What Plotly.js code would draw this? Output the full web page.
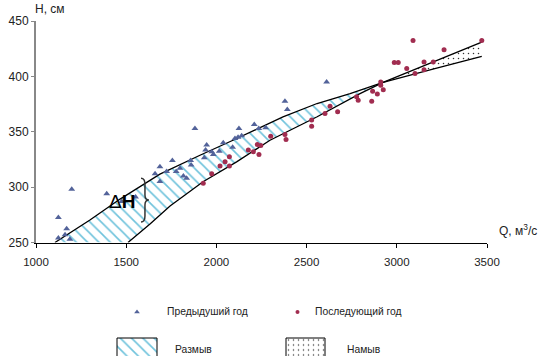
<!DOCTYPE html>
<html>
<head>
<meta charset="utf-8">
<script src="https://cdn.plot.ly/plotly-3.0.1.min.js"></script>
<style>html,body{margin:0;padding:0;background:#fff;}#chart{width:539px;height:361px;}</style>
</head>
<body>
<div id="chart"></div>
<script>
// ---- Data ----
// Previous year (triangles): Q, H
const prevQ = [1124,1198,1170,1161,1124,1188,1392,1475,1552,1660,1687,1687,1724,1756,1777,1798,1817,1835,1857,1860,1881,1933,1940,1946,1974,1983,2016,2038,2090,2103,2120,2125,2140,2210,2235,2273,2380,2393,2611];
const prevH = [272.5,298,262.5,257,254,253,294,287,291,312,305,318.5,314,324,314,317,310,308,324,320,353,326.5,333.5,338,332,329.5,332.5,340,336,344,345,353,346.5,356.5,353,353.5,377.5,370,395];
// Following year (circles): Q, H
const nextQ = [1927,1974,2020,2048,2072,2072,2177,2205,2227,2236,2246,2301,2380,2386,2528,2528,2602,2630,2672,2777,2786,2861,2866,2892,2911,2911,2925,2986,3008,3055,3090,3101,3151,3151,3202,3262,3471];
const nextH = [303.5,312,319,323,327.5,319,333.5,332,338.5,329.5,337.5,346,347.5,343,360.5,355,366.5,373,368,381.5,378.5,377.5,386.5,384,395,392,388,412.5,412.5,407,432.5,402.5,413,406,413,424,432.5];
// Rating curves
const prevCurveQ = [1105,1299,1466,1687,1909,2092,2369,2558,2741,2924,3200,3471];
const prevCurveH = [250,270.3,289.2,311.7,328.8,342.3,363.5,375.5,384.5,394.6,406.5,418];
const nextCurveQ = [1510,1632,1743,1926,2112,2297,2556,2796,2924,3200,3471];
const nextCurveH = [250,266.7,282.9,304.8,322.8,342.3,363.3,384.4,394.6,413,431];
const xTicks = [1000,1500,2000,2500,3000,3500];
const yTicks = [250,300,350,400,450];
const legendNames = ['Предыдуший год','Последующий год','Размыв','Намыв'];

// ---- Build band polygons from the curves ----
const crossQ = prevCurveQ.find(q => q > nextCurveQ[0] && nextCurveQ.includes(q));
const pi = prevCurveQ.indexOf(crossQ), ni = nextCurveQ.indexOf(crossQ);
const eroX = prevCurveQ.slice(0, pi + 1).concat(nextCurveQ.slice(0, ni + 1).reverse());
const eroY = prevCurveH.slice(0, pi + 1).concat(nextCurveH.slice(0, ni + 1).reverse());
const accX = prevCurveQ.slice(pi).concat(nextCurveQ.slice(ni).reverse());
const accY = prevCurveH.slice(pi).concat(nextCurveH.slice(ni).reverse());

const FONT = 'Liberation Sans, Arial, sans-serif';
const hatch = {shape: '\\', fgcolor: '#6fc3dc', bgcolor: '#ffffff', size: 8, solidity: 0.2};
const dots = {shape: '.', fgcolor: '#333333', bgcolor: '#ffffff', size: 5, solidity: 0.07};
const triColor = '#53639a', circColor = '#a12d50';

const traces = [
  {x: eroX, y: eroY, type: 'scatter', mode: 'lines', fill: 'toself', fillcolor: 'rgba(0,0,0,0)', fillpattern: hatch, line: {width: 0}, hoverinfo: 'skip', showlegend: false},
  {x: accX, y: accY, type: 'scatter', mode: 'lines', fill: 'toself', fillcolor: 'rgba(0,0,0,0)', fillpattern: dots, line: {width: 0}, hoverinfo: 'skip', showlegend: false},
  {x: prevCurveQ, y: prevCurveH, type: 'scatter', mode: 'lines', line: {color: '#000', width: 1.3}, showlegend: false},
  {x: nextCurveQ, y: nextCurveH, type: 'scatter', mode: 'lines', line: {color: '#000', width: 1.3}, showlegend: false},
  {x: prevQ, y: prevH, type: 'scatter', mode: 'markers', name: legendNames[0], marker: {symbol: 'triangle-up', size: 6, color: triColor, line: {width: 0}}, showlegend: false},
  {x: nextQ, y: nextH, type: 'scatter', mode: 'markers', name: legendNames[1], marker: {symbol: 'circle', size: 5, color: circColor, line: {width: 0}}, showlegend: false},
  // legend glyphs (on a separate pixel-like axis below the plot)
  {x: [137], y: [312], xaxis: 'x2', yaxis: 'y2', type: 'scatter', mode: 'markers', marker: {symbol: 'triangle-up', size: 5, color: triColor}, showlegend: false, hoverinfo: 'skip'},
  {x: [297.5], y: [312], xaxis: 'x2', yaxis: 'y2', type: 'scatter', mode: 'markers', marker: {symbol: 'circle', size: 4, color: circColor}, showlegend: false, hoverinfo: 'skip'},
  {x: [117,157,157,117,117], y: [338,338,360,360,338], xaxis: 'x2', yaxis: 'y2', type: 'scatter', mode: 'lines', fill: 'toself', fillcolor: 'rgba(0,0,0,0)', fillpattern: hatch, line: {color: '#000', width: 1}, showlegend: false, hoverinfo: 'skip'},
  {x: [286,325,325,286,286], y: [338,338,360,360,338], xaxis: 'x2', yaxis: 'y2', type: 'scatter', mode: 'lines', fill: 'toself', fillcolor: 'rgba(0,0,0,0)', fillpattern: dots, line: {color: '#000', width: 1}, showlegend: false, hoverinfo: 'skip'}
];

const legendText = (t, x, y) => ({text: t, xref: 'x2', yref: 'y2', x: x, y: y, xanchor: 'left', yanchor: 'middle', showarrow: false, font: {family: FONT, size: 10.3, color: '#222'}});

const layout = {
  width: 539, height: 361,
  margin: {l: 36, r: 52, t: 21, b: 5},
  paper_bgcolor: '#fff', plot_bgcolor: '#fff',
  showlegend: false,
  xaxis: {range: [1000, 3500], domain: [0, 1], anchor: 'y', showline: true, linecolor: '#000', linewidth: 1,
          ticks: 'outside', ticklen: 4, tickcolor: '#000', tickvals: xTicks, showgrid: false, zeroline: false,
          tickfont: {family: FONT, size: 11.5, color: '#222'}, ticklabelstandoff: 5},
  yaxis: {range: [250, 450], domain: [0.3388, 1], anchor: 'x', showline: true, linecolor: '#888', linewidth: 2,
          ticks: 'outside', ticklen: 3, tickcolor: '#888', tickvals: yTicks, showgrid: false, zeroline: false,
          tickfont: {family: FONT, size: 12, color: '#222'}},
  xaxis2: {range: [36, 487], domain: [0, 1], anchor: 'y2', visible: false, fixedrange: true},
  yaxis2: {range: [356, 242.5], domain: [0, 0.3388], anchor: 'x2', visible: false, fixedrange: true},
  shapes: [
    {type: 'path', xref: 'x', yref: 'y', path: 'M1582,308.1 Q1604,308.1 1604,302.7 L1604,292.8 Q1604,288.3 1626,288.3 Q1604,288.3 1604,283.8 L1604,273.9 Q1604,268.5 1582,268.5', line: {color: '#333', width: 1.5}}
  ],
  annotations: [
    {text: 'H, см', xref: 'paper', yref: 'paper', x: -0.0067, y: 1.0358, xanchor: 'left', yanchor: 'middle', showarrow: false, font: {family: FONT, size: 12, color: '#222'}},
    {text: 'Q, м<sup>3</sup>/с', xref: 'paper', yref: 'paper', x: 1.022, y: 0.376, xanchor: 'left', yanchor: 'middle', showarrow: false, font: {family: FONT, size: 12, color: '#222'}},
    {text: 'Δ<b>H</b>', xref: 'x', yref: 'y', x: 1477, y: 287.4, xanchor: 'center', yanchor: 'middle', showarrow: false, font: {family: FONT, size: 19, color: '#000'}},
    legendText(legendNames[0], 165, 311.5),
    legendText(legendNames[1], 313, 311.5),
    legendText(legendNames[2], 173, 349.5),
    legendText(legendNames[3], 345, 349.5)
  ]
};

Plotly.newPlot('chart', traces, layout, {displayModeBar: false, staticPlot: true});
</script>
</body>
</html>
